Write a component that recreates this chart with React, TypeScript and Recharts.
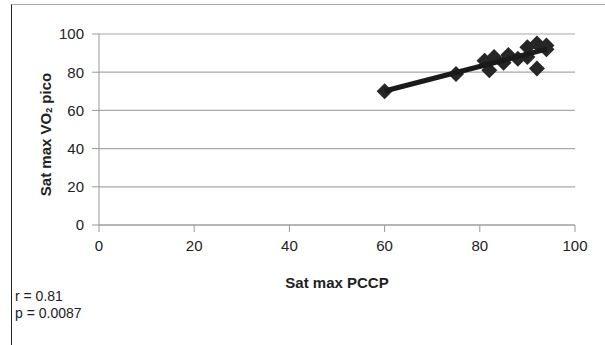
import { ScatterChart, Scatter, XAxis, YAxis, CartesianGrid, Label } from "recharts";

// Sat max PCCP (x) vs Sat max VO2 pico (y)
const satPCCP = [60, 75, 81, 82, 83, 85, 86, 88, 90, 90, 92, 92, 94, 94];
const satVO2 = [70, 79, 86, 81, 88, 85, 89, 87, 93, 88, 95, 82, 94, 92];
const axisTicks = [0, 20, 40, 60, 80, 100];
const statLines = ["r = 0.81", "p = 0.0087"];

const points = satPCCP.map((x, i) => ({ x, y: satVO2[i] }));

// least squares fit drawn across the range of the data
function fitLine(xs: number[], ys: number[]) {
  const n = xs.length;
  const mx = xs.reduce((a, b) => a + b, 0) / n;
  const my = ys.reduce((a, b) => a + b, 0) / n;
  let sxy = 0;
  let sxx = 0;
  xs.forEach((x, i) => {
    sxy += (x - mx) * (ys[i] - my);
    sxx += (x - mx) * (x - mx);
  });
  const slope = sxy / sxx;
  const lo = Math.min(...xs);
  const hi = Math.max(...xs);
  return [
    { x: lo, y: my + slope * (lo - mx) },
    { x: hi, y: my + slope * (hi - mx) },
  ];
}

const trend = fitLine(satPCCP, satVO2);

const FONT = "'Liberation Sans', Arial, sans-serif";

const Diamond = (props: any) => {
  const { cx, cy } = props;
  const r = 8;
  return (
    <polygon
      points={`${cx},${cy - r} ${cx + r},${cy} ${cx},${cy + r} ${cx - r},${cy}`}
      fill="#262626"
    />
  );
};

const YTitle = (props: any) => {
  const { viewBox } = props;
  const x = viewBox.x + 6;
  const y = viewBox.y + viewBox.height / 2 + 5;
  return (
    <text
      x={x}
      y={y}
      transform={`rotate(-90, ${x}, ${y})`}
      textAnchor="middle"
      dominantBaseline="central"
      fontFamily={FONT}
      fontSize={15}
      fontWeight="bold"
      fill="#222"
    >
      Sat max VO
      <tspan fontSize={9} dy={4}>2</tspan>
      <tspan dy={-4}> pico</tspan>
    </text>
  );
};

export default function App() {
  return (
    <div
      style={{
        position: "absolute",
        top: 0,
        left: 0,
        width: 605,
        height: 345,
        background: "#fff",
        fontFamily: FONT,
      }}
    >
      <div
        style={{
          position: "absolute",
          left: 11,
          top: 4,
          right: 0,
          bottom: 0,
          borderLeft: "1.5px solid #222",
          borderTop: "1.5px solid #aaa",
        }}
      />
      <ScatterChart
        width={605}
        height={345}
        margin={{ top: 34, right: 30, bottom: 55, left: 39 }}
        style={{ position: "absolute", top: 0, left: 0 }}
      >
        <CartesianGrid vertical={false} stroke="#a8a8a8" strokeWidth={1.2} />
        <XAxis
          type="number"
          dataKey="x"
          domain={[0, 100]}
          ticks={axisTicks}
          stroke="#999"
          tickSize={7}
          tickMargin={8}
          height={65}
          tick={{ fill: "#222", fontSize: 15, fontFamily: FONT }}
        >
          <Label
            value="Sat max PCCP"
            position="insideBottom"
            offset={2}
            style={{ fontFamily: FONT, fontSize: 15, fontWeight: "bold", fill: "#222" }}
          />
        </XAxis>
        <YAxis
          type="number"
          dataKey="y"
          domain={[0, 100]}
          ticks={axisTicks}
          stroke="#999"
          tickSize={7}
          tickMargin={8}
          width={60}
          tick={{ fill: "#222", fontSize: 15, fontFamily: FONT }}
        >
          <Label content={<YTitle />} />
        </YAxis>
        <Scatter data={points} shape={<Diamond />} isAnimationActive={false} />
        <Scatter
          data={trend}
          shape={() => <g />}
          line={{ stroke: "#1a1a1a", strokeWidth: 5 }}
          isAnimationActive={false}
        />
      </ScatterChart>
      <div
        style={{
          position: "absolute",
          left: 15,
          top: 288,
          fontSize: 14,
          lineHeight: "17px",
          color: "#222",
        }}
      >
        {statLines.map((s) => (
          <div key={s}>{s}</div>
        ))}
      </div>
    </div>
  );
}
